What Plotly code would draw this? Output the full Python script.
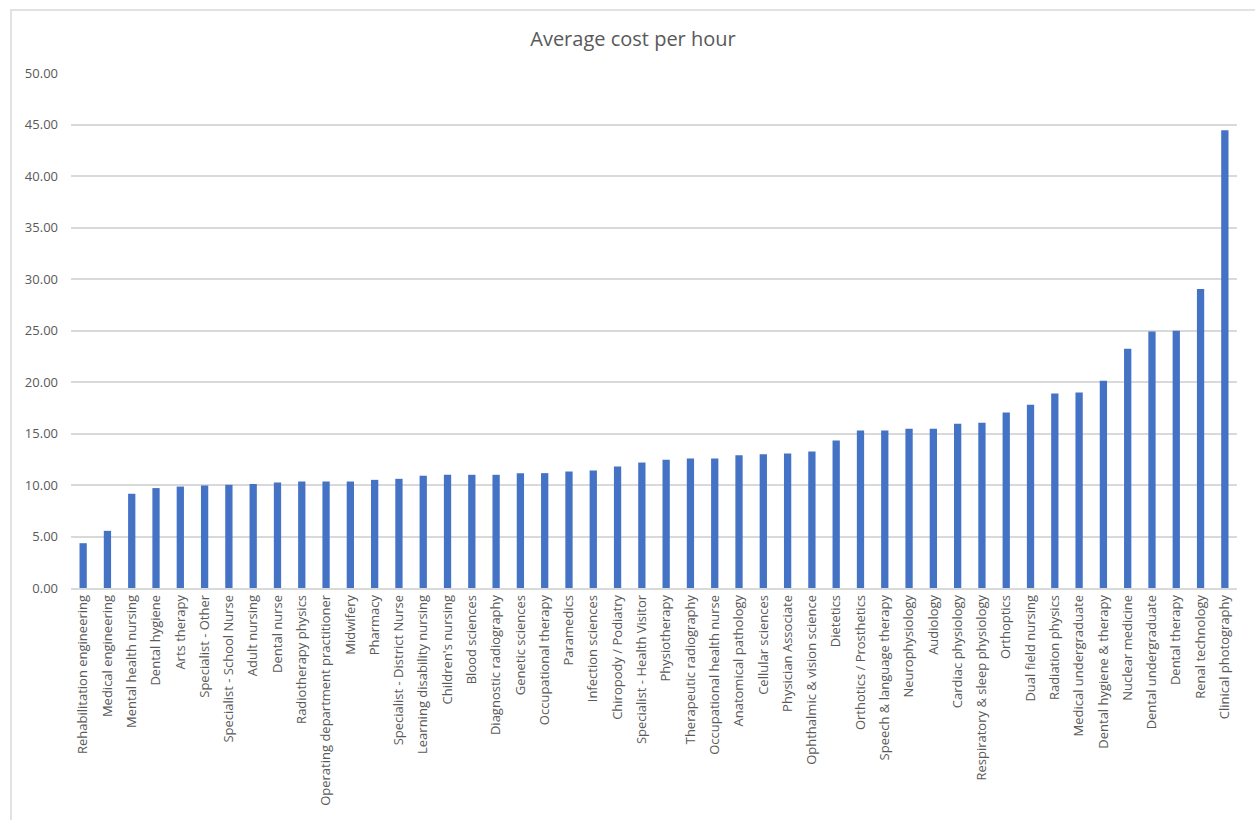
import plotly.graph_objects as go

categories = [
    "Rehabilitation engineering", "Medical engineering", "Mental health nursing",
    "Dental hygiene", "Arts therapy", "Specialist - Other", "Specialist - School Nurse",
    "Adult nursing", "Dental nurse", "Radiotherapy physics",
    "Operating department practitioner", "Midwifery", "Pharmacy",
    "Specialist - District Nurse", "Learning disability nursing", "Children's nursing",
    "Blood sciences", "Diagnostic radiography", "Genetic sciences",
    "Occupational therapy", "Paramedics", "Infection sciences", "Chiropody / Podiatry",
    "Specialist - Health Visitor", "Physiotherapy", "Therapeutic radiography",
    "Occupational health nurse", "Anatomical pathology", "Cellular sciences",
    "Physician Associate", "Ophthalmic & vision science", "Dietetics",
    "Orthotics / Prosthetics", "Speech & language therapy", "Neurophysiology",
    "Audiology", "Cardiac physiology", "Respiratory & sleep physiology", "Orthoptics",
    "Dual field nursing", "Radiation physics", "Medical undergraduate",
    "Dental hygiene & therapy", "Nuclear medicine", "Dental undergraduate",
    "Dental therapy", "Renal technology", "Clinical photography",
]

avg_cost = [
    4.35, 5.55, 9.15, 9.70, 9.85, 9.95, 10.02, 10.10, 10.24, 10.34,
    10.34, 10.34, 10.50, 10.60, 10.90, 10.99, 10.99, 10.99, 11.15, 11.15,
    11.31, 11.41, 11.80, 12.18, 12.44, 12.57, 12.57, 12.90, 12.99, 13.06,
    13.25, 14.32, 15.29, 15.29, 15.46, 15.46, 15.94, 16.04, 17.04, 17.79,
    18.88, 18.98, 20.12, 23.22, 24.90, 24.97, 29.03, 44.43,
]

y_ticks = [0, 5, 10, 15, 20, 25, 30, 35, 40, 45, 50]

grey_text = "#595959"
font_family = "Open Sans, Noto Sans, sans-serif"

fig = go.Figure(
    go.Bar(
        x=categories,
        y=avg_cost,
        marker=dict(color="#4472C4", line=dict(width=0)),
        hoverinfo="x+y",
    )
)

fig.update_layout(
    width=1255,
    height=820,
    margin=dict(l=71, r=18, t=73, b=232, autoexpand=False),
    paper_bgcolor="white",
    plot_bgcolor="white",
    bargap=0.7,
    showlegend=False,
    title=dict(
        text="Average cost per hour",
        x=633 / 1255,
        xref="container",
        xanchor="center",
        y=1 - 39 / 820,
        yref="container",
        yanchor="middle",
        font=dict(family=font_family, size=20, color=grey_text),
    ),
    font=dict(family=font_family, color=grey_text),
    shapes=[
        dict(
            type="rect", xref="paper", yref="paper",
            x0=(11 - 71) / 1166, x1=1.1,
            y0=-0.6, y1=(588 - 10) / 515,
            line=dict(color="#D9D9D9", width=1.5),
            fillcolor="rgba(0,0,0,0)", layer="below",
        )
    ],
)

fig.update_xaxes(
    type="category",
    automargin=False,
    tickangle=-90,
    tickfont=dict(family=font_family, size=13, color=grey_text),
    showgrid=False,
    showline=True,
    linecolor="#D9D9D9",
    linewidth=1.5,
    ticks="",
    ticklen=0,
)

fig.update_yaxes(
    automargin=False,
    range=[0, 50],
    tickvals=y_ticks,
    ticktext=[f"{v:.2f}" for v in y_ticks],
    tickfont=dict(family=font_family, size=13, color=grey_text),
    showgrid=True,
    gridcolor="#D9D9D9",
    gridwidth=1.5,
    zeroline=False,
    showline=False,
    ticks="",
    ticklabelstandoff=12,
)

fig.write_html("out.html")
